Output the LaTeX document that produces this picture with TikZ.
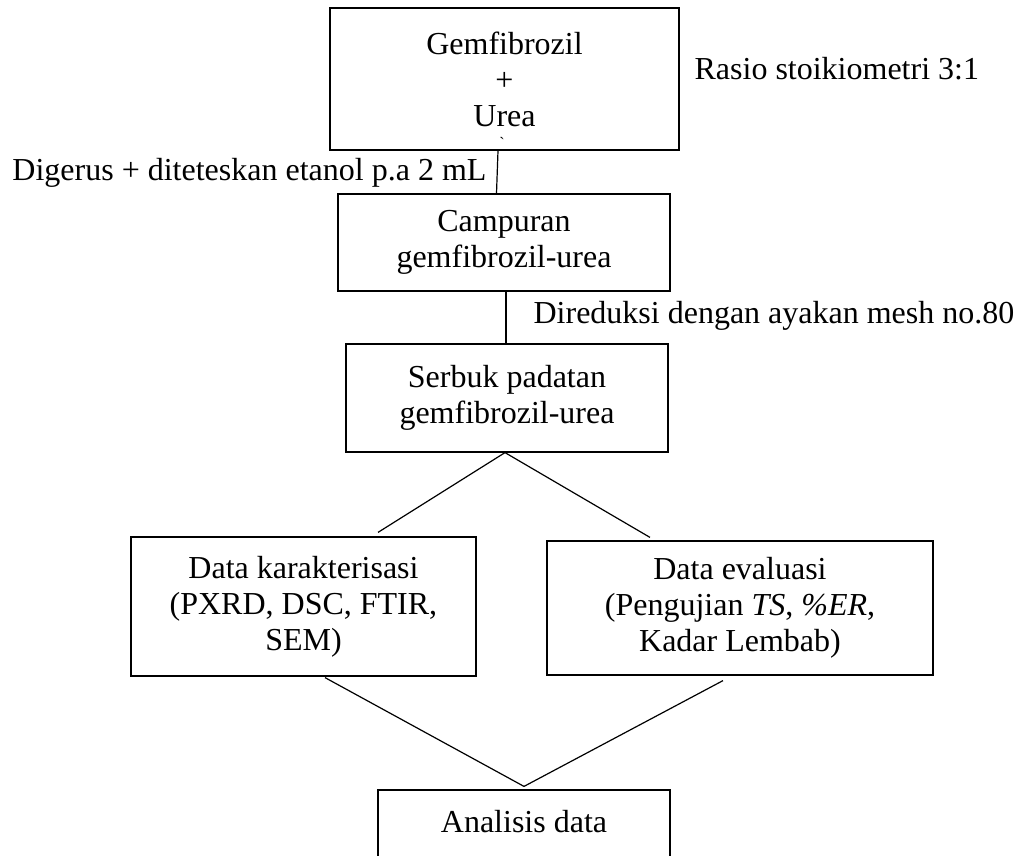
\documentclass[tikz,border=0pt]{standalone}
\usepackage{fontspec}
\setmainfont{Liberation Serif}

\begin{document}
\begin{tikzpicture}[x=1pt,y=-1pt,line width=1.2pt,
  kotak/.style = {shape=rectangle, draw, align=center, inner sep=0pt},
  ket/.style = {inner sep=0pt},
  every node/.style = {font=\fontsize{32}{36}\selectfont}]

  \clip (0,0) rectangle (1015,856);

  \node[kotak, minimum width=349pt, minimum height=142pt] (gem) at (504.5,79) {Gemfibrozil \\ + \\ Urea};
  \node[ket, font=\fontsize{16}{16}\selectfont] (tanda) at (502,143) {\textasciigrave};
  \node[ket, anchor=base west] (rasio) at (694,80) {Rasio stoikiometri 3:1};
  \node[kotak, minimum width=332pt, minimum height=97pt] (cam) at (504,242.5) {Campuran \\ gemfibrozil-urea};
  \node[ket, anchor=base east] (gerus) at (487,181) {Digerus + diteteskan etanol p.a 2 mL};
  \node[kotak, minimum width=322pt, minimum height=108pt] (ser) at (507,398) {Serbuk padatan \\ gemfibrozil-urea};
  \node[ket, anchor=base west] (reduksi) at (533,323) {Direduksi dengan ayakan mesh no.80};
  \node[kotak, minimum width=345pt, minimum height=139pt] (kar) at (303.5,606.5) {Data karakterisasi \\ (PXRD, DSC, FTIR, \\ SEM)};
  \node[kotak, minimum width=386pt, minimum height=134pt] (eva) at (740,608) {Data evaluasi \\ (Pengujian \textit{TS}, \textit{\%ER}, \\ Kadar Lembab)};
  \node[kotak, minimum width=292pt, minimum height=98pt] (ana) at (524,839) {Analisis data \\ ~};

  \draw ([xshift=-6.5pt]gem.south) -- ([xshift=-7.5pt]cam.north);
  \draw ([xshift=2pt]cam.south) -- ([xshift=-1pt]ser.north);
  \draw ([xshift=-2pt]ser.south) -- ([xshift=74.5pt,yshift=4pt]kar.north);
  \draw ([xshift=-2pt]ser.south) -- ([xshift=-90pt,yshift=3pt]eva.north);
  \draw ([xshift=21.5pt,yshift=-1pt]kar.south) -- ([yshift=3pt]ana.north);
  \draw ([xshift=-17pt,yshift=-5pt]eva.south) -- ([yshift=3pt]ana.north);
\end{tikzpicture}
\end{document}
